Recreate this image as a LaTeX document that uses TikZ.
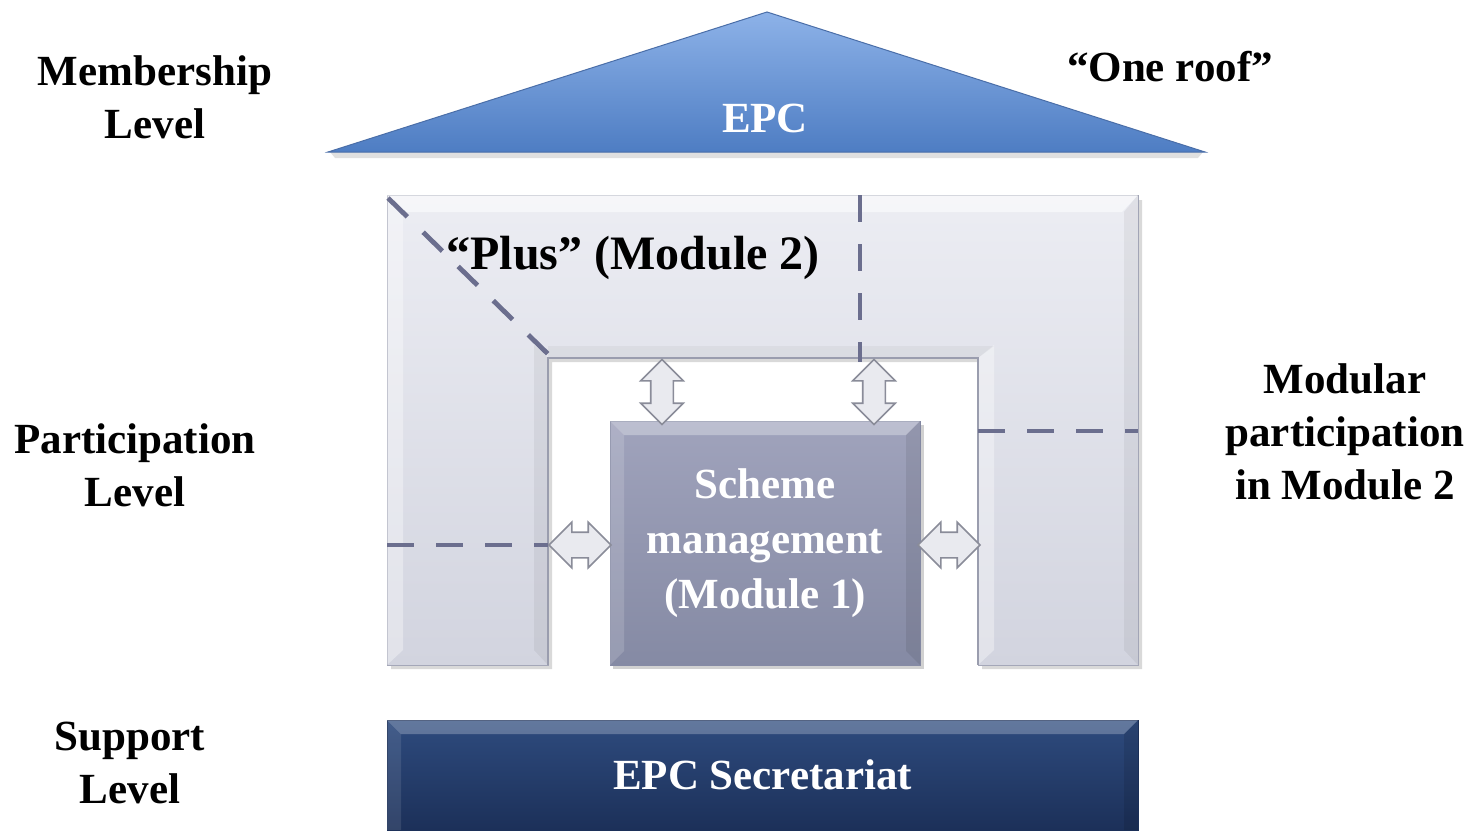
\documentclass[tikz,border=0pt]{standalone}
\usepackage{fontspec}
\setmainfont{Liberation Serif}
\usetikzlibrary{shapes.arrows}
\definecolor{roofTop}{HTML}{8DB2E8}
\definecolor{roofBot}{HTML}{4E7DC3}
\definecolor{roofEdge}{HTML}{4A6EA8}
\definecolor{uTop}{HTML}{ECEDF3}
\definecolor{uBot}{HTML}{D2D4DF}
\definecolor{uEdge}{HTML}{A4A7B8}
\definecolor{uInner}{HTML}{9A9DAE}
\definecolor{schemeTop}{HTML}{A0A3BC}
\definecolor{schemeBot}{HTML}{858AA4}
\definecolor{secTop}{HTML}{2E4B7E}
\definecolor{secBot}{HTML}{1C3059}
\definecolor{dashCol}{HTML}{6B6E8E}
\definecolor{arrFill}{HTML}{E9EAEF}
\definecolor{arrEdge}{HTML}{8A8C99}
\begin{document}
\begin{tikzpicture}[x=0.5pt,y=-0.5pt,
  lbl/.style={font=\fontsize{21.5}{26.5}\selectfont\bfseries, align=center, text=black, inner sep=0pt},
  wlbl/.style={lbl, text=white},
  dashline/.style={draw=dashCol, line width=2.4pt, dash pattern=on 13.5pt off 11pt},
  barrow/.style={double arrow, double arrow head extend=5pt, double arrow tip angle=90,
    inner sep=0pt, fill=arrFill, draw=arrEdge, line width=0.8pt},
  varrow/.style={barrow, minimum height=32.5pt, rotate=90},
  harrow/.style={barrow, minimum height=31pt},
  boxshape/.style={rectangle, inner sep=0pt, draw=uEdge, line width=0.4pt},
]
\useasboundingbox (0,0) rectangle (1470,830);
\fill[white] (0,0) rectangle (1470,830);

% roof
\fill[black, opacity=0.12] (330,152) -- (1203,152) -- (1198,158) -- (335,158) -- cycle;
\shade[top color=roofTop, bottom color=roofBot, draw=roofEdge, line width=0.5pt]
  (767,12) -- (1205,152) -- (328,152) -- cycle;
\node[wlbl] (epc) at (765,118) {EPC};

% U-shaped module 2
\fill[black, opacity=0.15] (391,200) -- (1142,200) -- (1142,669) -- (982,669) -- (982,362)
  -- (552,362) -- (552,669) -- (391,669) -- cycle;
\shade[top color=uTop, bottom color=uBot, draw=uEdge, line width=0.5pt]
  (387,195) -- (1138,195) -- (1138,665) -- (978,665) -- (978,358)
  -- (548,358) -- (548,665) -- (387,665) -- cycle;
\fill[white, opacity=0.55] (387,195) -- (1138,195) -- (1122,212) -- (403,212) -- cycle;
\fill[white, opacity=0.35] (387,195) -- (403,212) -- (403,650) -- (387,665) -- cycle;
\fill[white, opacity=0.35] (978,358) -- (994,345) -- (994,650) -- (978,665) -- cycle;
\fill[black, opacity=0.05] (1138,195) -- (1138,665) -- (1124,650) -- (1124,212) -- cycle;
\fill[black, opacity=0.05] (548,358) -- (548,665) -- (534,650) -- (534,345) -- cycle;
\fill[black, opacity=0.04] (548,346) -- (548,358) -- (978,358) -- (994,346) -- cycle;
\draw[uInner, line width=1pt] (548,665) -- (548,358) -- (978,358) -- (978,665);
\node[lbl, font=\fontsize{24}{28}\selectfont\bfseries] (plus) at (633,258) {“Plus” (Module 2)};

% dashed divisions
\coordinate (d1a) at (388,198); \coordinate (d1b) at (550,356);
\coordinate (d2a) at (860,195); \coordinate (d2b) at (860,362);
\coordinate (d3a) at (978,431); \coordinate (d3b) at (1138,431);
\coordinate (d4a) at (387,545); \coordinate (d4b) at (548,545);
\draw[dashline] (d1a) -- (d1b);
\draw[dashline] (d2a) -- (d2b);
\draw[dashline] (d3a) -- (d3b);
\draw[dashline] (d4a) -- (d4b);

% scheme management (module 1)
\fill[black, opacity=0.18] (613,425) rectangle (924,669);
\node[boxshape, top color=schemeTop, bottom color=schemeBot, draw=schemeBot,
  minimum width=155pt, minimum height=122pt] (scheme) at (765,543) {};
\fill[white, opacity=0.3] (610,421) -- (920,421) -- (906,435) -- (624,435) -- cycle;
\fill[white, opacity=0.15] (610,421) -- (624,435) -- (624,651) -- (610,665) -- cycle;
\fill[black, opacity=0.08] (920,421) -- (920,665) -- (906,651) -- (906,435) -- cycle;
\node[wlbl, font=\fontsize{21.5}{27.5}\selectfont\bfseries] at (scheme.center)
  {Scheme\\management\\(Module 1)};

% block arrows
\node[varrow] (a1) at (662,392) {\rule{0pt}{10.5pt}};
\node[varrow] (a2) at (874,392) {\rule{0pt}{10.5pt}};
\node[harrow] (a3) at (580,545) {\rule{0pt}{12pt}};
\node[harrow] (a4) at (949,545) {\rule{0pt}{12pt}};

% secretariat
\node[boxshape, top color=secTop, bottom color=secBot, draw=secBot,
  minimum width=375.5pt, minimum height=55pt] (sec) at (762.5,775) {};
\fill[white, opacity=0.25] (387,720) -- (1138,720) -- (1124,734) -- (401,734) -- cycle;
\fill[white, opacity=0.1] (387,720) -- (401,734) -- (401,830) -- (387,830) -- cycle;
\fill[black, opacity=0.1] (1138,720) -- (1124,734) -- (1124,830) -- (1138,830) -- cycle;
\node[wlbl] at (sec.center) {EPC Secretariat};

% level labels
\node[lbl] (mem) at (155,97) {Membership\\Level};
\node[lbl] (roof) at (1170,67) {“One roof”};
\node[lbl] (part) at (135,465) {Participation\\Level};
\node[lbl] (modp) at (1345,432) {Modular\\participation\\in Module 2};
\node[lbl] (sup) at (130,763) {Support\\Level};
\end{tikzpicture}
\end{document}
